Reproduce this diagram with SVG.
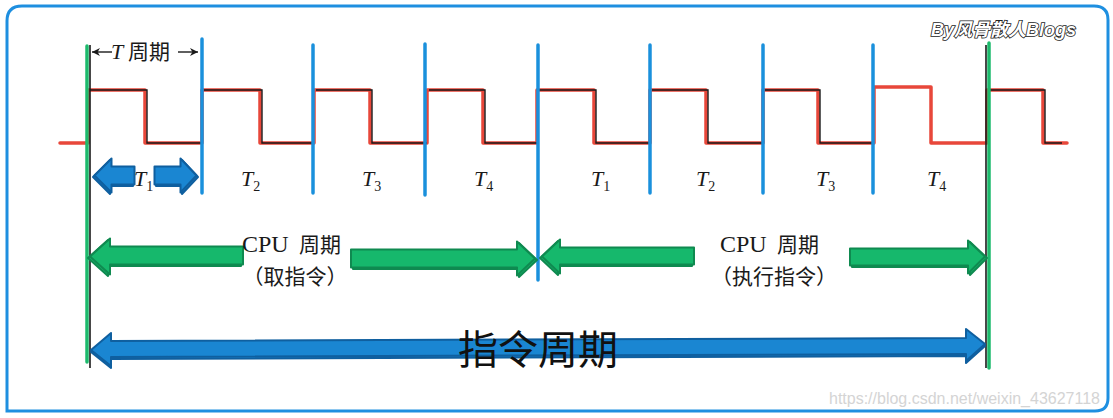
<svg xmlns="http://www.w3.org/2000/svg" xmlns:xlink="http://www.w3.org/1999/xlink" width="1113" height="418" viewBox="0 0 1113 418">
<style>
.frame{fill:#fff;stroke:#1e8fe0;stroke-width:3}
.wave-r{fill:none;stroke:#e8473a;stroke-width:3.5;stroke-linejoin:round;stroke-linecap:round}
.wave-k{fill:none;stroke:#1a1a1a;stroke-width:1.4;stroke-linejoin:miter}
.vb{stroke:#1a90dc;stroke-width:3.5;stroke-linecap:round}
.vg{stroke:#1dba6c;stroke-width:3.5;stroke-linecap:round}
.vk{stroke:#1a1a1a;stroke-width:1.6}
.ga{fill:#16b86c;stroke:#0f8a50;stroke-width:2;stroke-linejoin:round}
.ba{fill:#1a86d2;stroke:#0f5f9f;stroke-width:2;stroke-linejoin:round}
.sk-g{fill:none;stroke:#0c7a45;stroke-width:0.9}
.sk-b{fill:none;stroke:#0b5390;stroke-width:0.9}
.tl{font-family:"Liberation Serif",serif;font-style:italic;font-size:22px;fill:#1a1a1a}
.sub{font-family:"Liberation Serif",serif;font-style:normal;font-size:14px;fill:#1a1a1a}
.cpu{font-family:"Liberation Serif",serif;font-size:24px;fill:#1a1a1a}
.cn{font-family:"Noto Sans CJK SC",sans-serif;font-size:21px;fill:#1a1a1a}
.big{font-family:"Noto Sans CJK SC",sans-serif;font-size:40px;font-weight:400;fill:#111}
.wm{font-family:"Liberation Sans","Noto Sans CJK SC",sans-serif;font-size:18px;font-weight:bold;font-style:italic;fill:#fff;stroke:#222;stroke-width:1.6;paint-order:stroke}
.url{font-family:"Liberation Sans",sans-serif;font-size:16px;fill:#d4d4d4}
</style>
<defs>
<marker id="ah" viewBox="0 0 10 10" refX="10" refY="5" markerWidth="12" markerHeight="8" orient="auto-start-reverse" markerUnits="userSpaceOnUse">
<path d="M0,0 L10,5 L0,10 L3,5 Z" fill="#1a1a1a"/>
</marker>
</defs>

<g id="frame">
<path class="frame" d="M22,6 L1094,6 Q1108,6 1108,20 L1108,398 Q1108,411 1095,411 L7,411 L7,21 Q7,6 22,6 Z"/>
</g>

<g id="waveform">
<polyline class="wave-r" points="60,143 88,143 88,90 145,90 145,143 202,143 202,90 260,90 260,143 314,143 314,90 370,90 370,143 427,143 427,90 483,90 483,143 537,143 537,90 594,90 594,143 650,143 650,90 706,90 706,143 763,143 763,90 818,90 818,143 874,143 874,87 931,87 931,143 987,143 987,90 1043,90 1043,143 1067,143"/>
<polyline class="wave-k" points="90,90 147,90 147,143 202,143"/>
<polyline class="wave-k" points="204,90 262,90 262,143 314,143"/>
<polyline class="wave-k" points="316,90 372,90 372,143 427,143"/>
<polyline class="wave-k" points="429,90 485,90 485,143 537,143"/>
<polyline class="wave-k" points="539,90 596,90 596,143 650,143"/>
<polyline class="wave-k" points="652,90 708,90 708,143 763,143"/>
<polyline class="wave-k" points="765,90 820,90 820,143 874,143"/>
<polyline class="wave-k" points="989,90 1045,90 1045,143 1062,143"/>
</g>

<g id="dividers">
<line class="vk" x1="90" y1="45" x2="90" y2="368"/>
<line class="vg" x1="87" y1="46" x2="87" y2="362"/>
<line class="vb" x1="202" y1="39" x2="202" y2="193"/>
<line class="vb" x1="313" y1="45" x2="313" y2="193"/>
<line class="vb" x1="425" y1="44" x2="425" y2="195"/>
<line class="vb" x1="538" y1="45" x2="538" y2="280"/>
<line class="vb" x1="650" y1="45" x2="650" y2="193" stroke="#1577b8"/>
<line class="vb" x1="763" y1="45" x2="763" y2="193"/>
<line class="vb" x1="873" y1="45" x2="873" y2="193"/>
<line class="vk" x1="986" y1="45" x2="986" y2="368"/>
<line class="vg" x1="989" y1="43" x2="989" y2="368"/>
</g>

<g id="t-period">
<line x1="92" y1="52" x2="112" y2="52" stroke="#1a1a1a" stroke-width="1.4" marker-start="url(#ah)"/>
<line x1="178" y1="52" x2="198" y2="52" stroke="#1a1a1a" stroke-width="1.4" marker-end="url(#ah)"/>
<text x="111" y="59" class="tl">T</text>
<text x="128" y="59" class="cn" font-size="23">周期</text>
</g>

<g id="t1-arrows">
<path id="t1l" class="ba" d="M93,177 L110,160 L110,168 L133,168 L133,186 L110,186 L110,194 Z"/>
<path id="t1r" class="ba" d="M198,177 L182,160 L182,168 L156,168 L156,186 L182,186 L182,194 Z"/>
<use xlink:href="#t1l" href="#t1l" class="sk-b" transform="translate(1.5,-1.5)"/>
<use xlink:href="#t1r" href="#t1r" class="sk-b" transform="translate(-1.5,-1.5)"/>
</g>

<g id="t-labels">
<text x="134" y="186" class="tl">T<tspan class="sub" dy="5">1</tspan></text>
<text x="241" y="186" class="tl">T<tspan class="sub" dy="5">2</tspan></text>
<text x="362" y="186" class="tl">T<tspan class="sub" dy="5">3</tspan></text>
<text x="474" y="186" class="tl">T<tspan class="sub" dy="5">4</tspan></text>
<text x="591" y="186" class="tl">T<tspan class="sub" dy="5">1</tspan></text>
<text x="696" y="186" class="tl">T<tspan class="sub" dy="5">2</tspan></text>
<text x="816" y="186" class="tl">T<tspan class="sub" dy="5">3</tspan></text>
<text x="927" y="186" class="tl">T<tspan class="sub" dy="5">4</tspan></text>
</g>

<g id="connectors">
<g id="cpu-fetch">
<path id="a1" class="ga" d="M88,258 L108,240 L108,248 L241,248 L241,266 L108,266 L108,276 Z"/>
<path id="a2" class="ga" d="M537,260 L519,243 L519,251 L353,251 L353,269 L519,269 L519,277 Z"/>
<use xlink:href="#a1" href="#a1" class="sk-g" transform="translate(2,-1.5)"/>
<use xlink:href="#a2" href="#a2" class="sk-g" transform="translate(-2,-1.5)"/>
</g>
<g id="cpu-exec">
<path id="a3" class="ga" d="M540,258 L558,241 L558,249 L692,249 L692,266 L558,266 L558,275 Z"/>
<path id="a4" class="ga" d="M987,258 L970,242 L970,250 L852,250 L852,267 L970,267 L970,275 Z"/>
<use xlink:href="#a3" href="#a3" class="sk-g" transform="translate(2,-1.5)"/>
<use xlink:href="#a4" href="#a4" class="sk-g" transform="translate(-2,-1.5)"/>
</g>
<g id="instr-cycle">
<path id="a5" class="ba" d="M91,352 L111,335 L111,343 L966,340 L966,331 L985,346 L966,363 L966,356 L111,359 L111,368 Z"/>
<use xlink:href="#a5" href="#a5" class="sk-b" transform="translate(0,-2)"/>
</g>
</g>

<g id="cpu-label-1">
<text x="242" y="252" class="cpu">CPU</text>
<text x="299" y="252" class="cn" font-size="22">周期</text>
<text x="295" y="284" class="cn" text-anchor="middle">（取指令）</text>
</g>
<g id="cpu-label-2">
<text x="720" y="252" class="cpu">CPU</text>
<text x="777" y="252" class="cn" font-size="22">周期</text>
<text x="774" y="284" class="cn" text-anchor="middle">（执行指令）</text>
</g>

<g id="instr-label">
<text x="458" y="364" class="big">指令周期</text>
</g>

<g id="watermarks">
<text x="931" y="36" class="wm">By风骨散人Blogs</text>
<text x="1100" y="404" class="url" text-anchor="end">https://blog.csdn.net/weixin_43627118</text>
</g>
</svg>
